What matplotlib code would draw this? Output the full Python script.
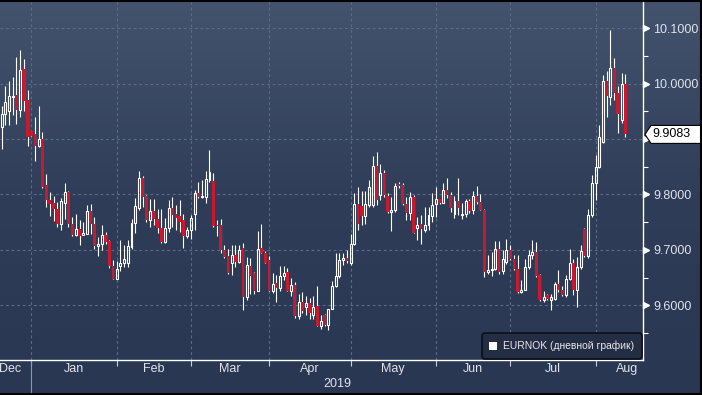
import numpy as np
import pandas as pd
import matplotlib
matplotlib.use("Agg")
import matplotlib.pyplot as plt
from matplotlib.colors import LinearSegmentedColormap
from matplotlib.patches import Rectangle, Polygon, FancyBboxPatch
from matplotlib.lines import Line2D
from matplotlib.transforms import IdentityTransform

plt.rcParams['font.family'] = ['Liberation Sans', 'DejaVu Sans']

# ---------------- data (EURNOK daily candles) ----------------
start_date = '2018-12-20'
opens = [9.921, 9.945, 9.950, 9.975, 9.979, 9.952, 10.026, 9.970,
         9.914, 9.909, 9.887, 9.900, 9.817, 9.790, 9.784, 9.774, 9.747, 9.785, 9.804, 9.747,
         9.726, 9.738, 9.727, 9.729, 9.770, 9.747, 9.706, 9.711, 9.726, 9.716, 9.671,
         9.647, 9.671, 9.676, 9.676, 9.705, 9.748, 9.775, 9.829, 9.798, 9.753, 9.770, 9.755,
         9.740, 9.714, 9.739, 9.776, 9.765, 9.761, 9.753, 9.725,
         9.736, 9.764, 9.803, 9.795, 9.796, 9.826, 9.825, 9.745, 9.745, 9.700, 9.689, 9.676,
         9.690, 9.678, 9.703, 9.615, 9.670, 9.658, 9.625, 9.703, 9.695,
         9.682, 9.625, 9.640, 9.631, 9.652, 9.660, 9.626, 9.637, 9.580, 9.605, 9.596, 9.604,
         9.583, 9.599, 9.563, 9.583, 9.565, 9.593, 9.634, 9.652, 9.682, 9.685,
         9.677, 9.710, 9.783, 9.779, 9.761, 9.781, 9.781, 9.852, 9.799, 9.838, 9.797, 9.769,
         9.771, 9.819, 9.817, 9.783, 9.766, 9.796, 9.740, 9.746, 9.736, 9.745, 9.761,
         9.782, 9.791, 9.784, 9.808, 9.799, 9.764, 9.789, 9.762, 9.765, 9.789, 9.771, 9.798,
         9.787, 9.772, 9.660, 9.663, 9.666, 9.702, 9.661, 9.678,
         9.699, 9.683, 9.666, 9.624, 9.628, 9.669, 9.690, 9.696, 9.654, 9.609, 9.618, 9.610,
         9.612, 9.639, 9.627, 9.618, 9.648, 9.677, 9.627, 9.669, 9.737, 9.689, 9.763,
         9.820, 9.850, 9.895, 10.005, 9.975, 10.028, 9.983, 9.934, 9.999]
highs = [9.960, 9.996, 10.004, 10.012, 10.048, 10.060, 10.044, 9.988,
         9.915, 9.940, 9.960, 9.912, 9.837, 9.804, 9.798, 9.787, 9.793, 9.820, 9.807, 9.760,
         9.765, 9.753, 9.750, 9.780, 9.782, 9.760, 9.723, 9.744, 9.733, 9.717, 9.682,
         9.680, 9.718, 9.708, 9.717, 9.755, 9.793, 9.843, 9.834, 9.799, 9.791, 9.791, 9.773,
         9.773, 9.757, 9.790, 9.796, 9.781, 9.790, 9.764, 9.742,
         9.763, 9.808, 9.823, 9.826, 9.843, 9.880, 9.838, 9.754, 9.755, 9.708, 9.701, 9.708,
         9.708, 9.708, 9.712, 9.687, 9.686, 9.660, 9.734, 9.747, 9.697,
         9.689, 9.658, 9.655, 9.670, 9.670, 9.667, 9.649, 9.641, 9.620, 9.623, 9.616, 9.613,
         9.616, 9.634, 9.582, 9.584, 9.593, 9.643, 9.695, 9.694, 9.694, 9.700,
         9.728, 9.803, 9.813, 9.806, 9.806, 9.826, 9.869, 9.877, 9.855, 9.844, 9.802, 9.796,
         9.820, 9.823, 9.820, 9.796, 9.805, 9.799, 9.759, 9.763, 9.777, 9.777, 9.803,
         9.814, 9.792, 9.821, 9.830, 9.805, 9.797, 9.830, 9.785, 9.791, 9.791, 9.807, 9.816,
         9.800, 9.774, 9.690, 9.696, 9.715, 9.715, 9.699, 9.719,
         9.708, 9.690, 9.690, 9.645, 9.683, 9.699, 9.717, 9.714, 9.657, 9.626, 9.621, 9.620,
         9.642, 9.663, 9.634, 9.654, 9.701, 9.684, 9.687, 9.708, 9.739, 9.773, 9.835,
         9.871, 9.925, 10.016, 10.022, 10.097, 10.046, 9.996, 10.019, 10.017]
lows = [9.882, 9.926, 9.926, 9.944, 9.927, 9.940, 9.950, 9.888,
        9.905, 9.861, 9.886, 9.812, 9.778, 9.761, 9.752, 9.741, 9.735, 9.756, 9.741, 9.725,
        9.725, 9.708, 9.727, 9.728, 9.728, 9.702, 9.689, 9.699, 9.711, 9.667, 9.647,
        9.647, 9.662, 9.669, 9.669, 9.702, 9.731, 9.772, 9.778, 9.751, 9.742, 9.745, 9.731,
        9.713, 9.713, 9.733, 9.742, 9.736, 9.733, 9.704, 9.721,
        9.719, 9.736, 9.793, 9.793, 9.784, 9.823, 9.742, 9.725, 9.695, 9.686, 9.657, 9.654,
        9.669, 9.676, 9.591, 9.609, 9.621, 9.620, 9.625, 9.694, 9.676,
        9.625, 9.622, 9.605, 9.625, 9.645, 9.625, 9.616, 9.577, 9.575, 9.586, 9.583, 9.575,
        9.575, 9.563, 9.557, 9.562, 9.556, 9.593, 9.633, 9.649, 9.672, 9.676,
        9.672, 9.708, 9.736, 9.745, 9.747, 9.778, 9.778, 9.781, 9.790, 9.796, 9.766, 9.734,
        9.769, 9.811, 9.781, 9.754, 9.753, 9.730, 9.718, 9.711, 9.733, 9.736, 9.751,
        9.760, 9.782, 9.784, 9.793, 9.769, 9.758, 9.763, 9.756, 9.759, 9.767, 9.764, 9.783,
        9.771, 9.651, 9.657, 9.653, 9.663, 9.657, 9.657, 9.675,
        9.681, 9.663, 9.622, 9.622, 9.627, 9.666, 9.683, 9.651, 9.608, 9.606, 9.609, 9.591,
        9.609, 9.624, 9.616, 9.615, 9.645, 9.618, 9.597, 9.666, 9.687, 9.686, 9.760,
        9.790, 9.847, 9.892, 9.940, 9.961, 9.971, 9.910, 9.928, 9.904]
closes = [9.945, 9.967, 9.978, 9.978, 9.952, 10.025, 9.968, 9.904,
          9.906, 9.887, 9.900, 9.814, 9.790, 9.782, 9.773, 9.747, 9.788, 9.804, 9.747, 9.726,
          9.738, 9.725, 9.730, 9.770, 9.746, 9.706, 9.711, 9.726, 9.714, 9.670, 9.647,
          9.665, 9.676, 9.684, 9.706, 9.748, 9.779, 9.829, 9.796, 9.753, 9.770, 9.755, 9.739,
          9.714, 9.739, 9.775, 9.762, 9.758, 9.751, 9.725, 9.736,
          9.757, 9.802, 9.795, 9.797, 9.827, 9.841, 9.743, 9.743, 9.700, 9.687, 9.658, 9.690,
          9.678, 9.700, 9.615, 9.672, 9.652, 9.625, 9.701, 9.695, 9.677,
          9.625, 9.638, 9.631, 9.653, 9.658, 9.626, 9.637, 9.580, 9.605, 9.589, 9.604, 9.586,
          9.596, 9.563, 9.571, 9.565, 9.593, 9.634, 9.652, 9.682, 9.685, 9.679,
          9.710, 9.783, 9.747, 9.761, 9.782, 9.813, 9.852, 9.790, 9.838, 9.799, 9.769, 9.772,
          9.815, 9.815, 9.783, 9.766, 9.796, 9.731, 9.744, 9.737, 9.745, 9.763, 9.781,
          9.791, 9.784, 9.808, 9.799, 9.775, 9.789, 9.775, 9.765, 9.789, 9.770, 9.798, 9.786,
          9.772, 9.660, 9.663, 9.666, 9.702, 9.660, 9.683, 9.699,
          9.683, 9.666, 9.624, 9.628, 9.669, 9.690, 9.696, 9.652, 9.609, 9.614, 9.612, 9.615,
          9.639, 9.627, 9.618, 9.648, 9.677, 9.627, 9.669, 9.698, 9.689, 9.763, 9.820,
          9.850, 9.904, 10.005, 9.977, 10.028, 9.983, 9.945, 9.999, 9.9083]

y_ticks = [9.6, 9.7, 9.8, 9.9, 10.0, 10.1]
y_tick_labels = ['9.6000', '9.7000', '9.8000', '9.9000', '10.0000', '10.1000']
month_names = ['Dec', 'Jan', 'Feb', 'Mar', 'Apr', 'May', 'Jun', 'Jul', 'Aug']
year_label = '2019'
last_label = '9.9083'
legend_label = 'EURNOK (дневной график)'

# ---------------- styles ----------------
TXT = '#dfe3ea'
GRID = '#5a6c8a'
RED = '#c8192e'
W_PX, H_PX = 702, 395

n = len(closes)
dates = pd.bdate_range(start_date, periods=n)
x = np.arange(n)

fig = plt.figure(figsize=(W_PX / 100, H_PX / 100), dpi=100)

# gradient background
bg = fig.add_axes([0, 0, 1, 1], zorder=0)
grad = np.linspace(0, 1, 256).reshape(-1, 1)
cmap = LinearSegmentedColormap.from_list('bg', ['#44536d', '#2f3d59', '#2a3753'])
bg.imshow(grad, aspect='auto', cmap=cmap, extent=[0, 1, 0, 1])
bg.set_axis_off()

ax_bottom_px = 359.5
ax = fig.add_axes([0, (H_PX - ax_bottom_px) / H_PX, 642.7 / W_PX, ax_bottom_px / H_PX], zorder=1)
ax.set_facecolor('none')

y0 = 9.502
px_per_unit = 554.0
ax.set_ylim(y0, y0 + ax_bottom_px / px_per_unit)
ax.set_xlim(-0.43, 172.7)

# spines
for s in ['top', 'left']:
    ax.spines[s].set_visible(False)
for s in ['bottom', 'right']:
    ax.spines[s].set_color('white')
    ax.spines[s].set_linewidth(1.0)

# month starts
month_starts = [i for i in range(1, n) if dates[i].month != dates[i - 1].month]

# grid
for yv in y_ticks:
    ax.axhline(yv, color=GRID, lw=0.8, dashes=(2.5, 2.5), zorder=1)
for ms in month_starts:
    ax.axvline(ms, color=GRID, lw=0.8, dashes=(2.5, 2.5), zorder=1)

# candles
body_up_w = 0.52
body_dn_w = 0.74
for i in range(n):
    o, h, l, c = opens[i], highs[i], lows[i], closes[i]
    top, bot = max(o, c), min(o, c)
    if c >= o:
        ax.vlines(i, top, h, color='white', lw=0.8, zorder=3)
        ax.vlines(i, l, bot, color='white', lw=0.8, zorder=3)
        ax.add_patch(Rectangle((i - body_up_w / 2, bot), body_up_w, max(top - bot, 0.0008),
                               fill=False, edgecolor='white', lw=0.8, zorder=4))
    else:
        ax.vlines(i, l, h, color='white', lw=0.8, zorder=3)
        ax.add_patch(Rectangle((i - body_dn_w / 2, bot), body_dn_w, top - bot,
                               facecolor=RED, edgecolor='none', zorder=4))

# y axis (right)
ax.yaxis.tick_right()
ax.set_yticks(y_ticks)
ax.set_yticklabels(y_tick_labels)
ax.tick_params(axis='y', which='major', length=0, pad=7.6, labelsize=9, labelcolor=TXT)
ax.set_yticks(np.arange(9.55, 10.11, 0.1), minor=True)
ax.tick_params(axis='y', which='minor', length=3.8, width=0.8, color='white', direction='out')
ax.plot(np.full(len(y_ticks), 1.0055), y_ticks, marker='>', ms=5, color='white', lw=0,
        transform=ax.get_yaxis_transform(), clip_on=False, zorder=6)

# x axis
ax.set_xticks(month_starts)
ax.set_xticklabels([])
ax.tick_params(axis='x', which='major', length=4, width=0.8, color='#c9cdd6', direction='out')

full = pd.bdate_range(dates[0].replace(day=1), (dates[-1] + pd.offsets.MonthEnd(2)))
offset = full.get_loc(dates[0])
months = pd.period_range(dates[0], dates[-1], freq='M')
xl0, xl1 = ax.get_xlim()
lab_y = -(369 - ax_bottom_px) / ax_bottom_px
for k, per in enumerate(months):
    first = np.where((full.year == per.year) & (full.month == per.month))[0][0] - offset
    nxt = (per + 1)
    nfirst = np.where((full.year == nxt.year) & (full.month == nxt.month))[0][0] - offset
    mid = (first + nfirst) / 2
    mid = min(max(mid, xl0 + 2.6), xl1 - 4.2)
    ax.text(mid, lab_y, month_names[k], transform=ax.get_xaxis_transform(),
            ha='center', va='center', fontsize=9, color=TXT, clip_on=False)

year_start = [i for i in month_starts if dates[i].month == 1][0]
ax.text((year_start + xl1) / 2, -(384 - ax_bottom_px) / ax_bottom_px, year_label,
        transform=ax.get_xaxis_transform(), ha='center', va='center', fontsize=9, color=TXT)
ax.add_line(Line2D([year_start, year_start], [0, -(H_PX - ax_bottom_px) / ax_bottom_px],
                   transform=ax.get_xaxis_transform(), color='#8d97aa', lw=0.8, clip_on=False))

# legend box
leg = FancyBboxPatch((482, H_PX - 359), 160, 26, boxstyle='round,pad=0,rounding_size=3',
                     facecolor='#232e45', edgecolor='#0b0f17', lw=1.2,
                     transform=IdentityTransform(), zorder=5)
fig.add_artist(leg)
fig.add_artist(Rectangle((489, H_PX - 350), 8, 8, facecolor='white', edgecolor='none',
                         transform=IdentityTransform(), zorder=6))
fig.text(503, H_PX - 346, legend_label, transform=IdentityTransform(), fontsize=7.4,
         color='#e8e8e8', va='center', ha='left', zorder=6)

# last value tag
fig.canvas.draw()
yc = ax.transData.transform((0, closes[-1]))[1]
tag = Polygon([[645, yc], [651, yc + 9], [701, yc + 9], [701, yc - 9], [651, yc - 9]],
              closed=True, facecolor='white', edgecolor='black', lw=0.8,
              transform=IdentityTransform(), zorder=7)
fig.add_artist(tag)
fig.text(652, yc, last_label, transform=IdentityTransform(), fontsize=9, color='black',
         va='center', ha='left', zorder=8)

# outer black border
for xs, ys in [([0, 1], [0.998, 0.998]), ([0.999, 0.999], [0, 1]), ([0, 1], [0.002, 0.002])]:
    fig.add_artist(Line2D(xs, ys, transform=fig.transFigure, color='black', lw=1.5, zorder=9))

fig.savefig('out.png', dpi=100)
